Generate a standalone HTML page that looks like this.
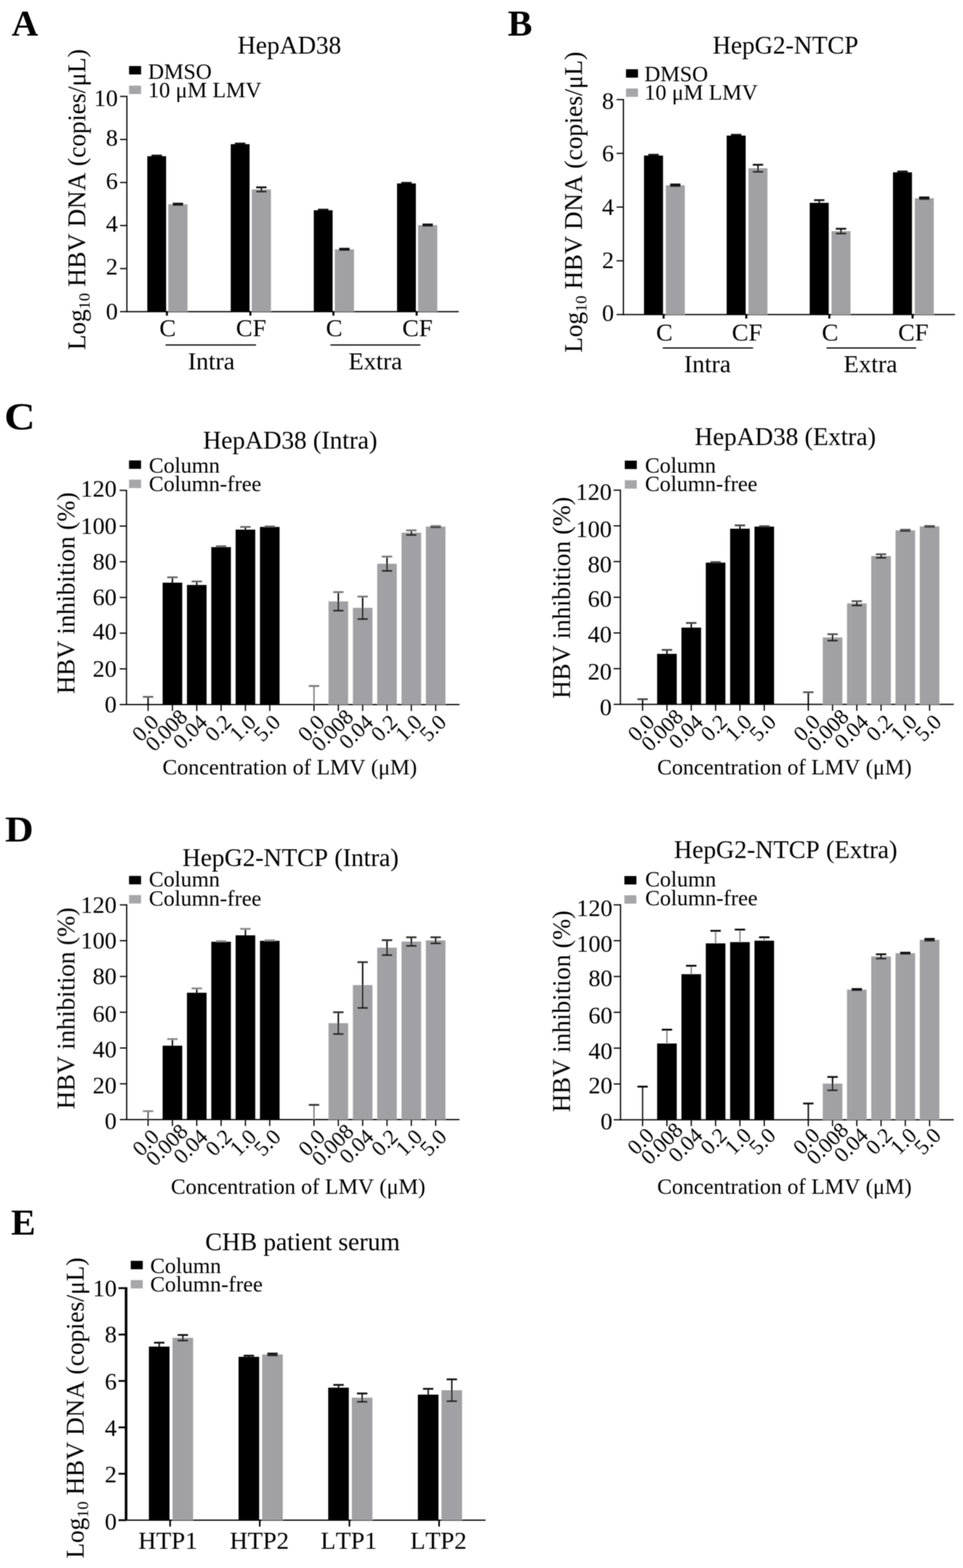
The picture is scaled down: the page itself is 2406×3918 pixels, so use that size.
<!DOCTYPE html>
<html><head><meta charset="utf-8"><title>Figure</title>
<style>
html,body{margin:0;padding:0;background:#fff;}
body{width:2406px;height:3918px;overflow:hidden;}
svg{display:block;}
text{font-family:'Liberation Serif', 'Times New Roman', serif;fill:#000;font-kerning:none;stroke:none;}
text.b{stroke:none;}
</style></head><body>
<svg width="2406" height="3918" viewBox="0 0 2406 3918">
<defs><filter id="soft" x="0" y="0" width="2406" height="3918" filterUnits="userSpaceOnUse"><feGaussianBlur stdDeviation="1"/></filter></defs>
<rect width="2406" height="3918" fill="#fff"/>
<g filter="url(#soft)">
<text class="b" transform="translate(29,89) scale(1.0,1)" font-size="92" font-weight="bold">A</text>
<text class="b" transform="translate(1268.5,89) scale(1.0,1)" font-size="92" font-weight="bold">B</text>
<text class="b" transform="translate(10.5,1072.5) scale(1.13,1)" font-size="95" font-weight="bold">C</text>
<text class="b" transform="translate(12.5,2102.5) scale(1.07,1)" font-size="92" font-weight="bold">D</text>
<text class="b" transform="translate(27.5,3085) scale(1.0,1)" font-size="92" font-weight="bold">E</text>
<line x1="315.5" y1="778.7" x2="1146.0" y2="778.7" stroke="#000" stroke-width="3"/>
<line x1="317.0" y1="239.4" x2="317.0" y2="780.2" stroke="#000" stroke-width="3"/>
<line x1="300.0" y1="778.7" x2="317.0" y2="778.7" stroke="#000" stroke-width="3"/>
<text x="294.5" y="798.2" font-size="60" text-anchor="end" >0</text>
<line x1="300.0" y1="671.1" x2="317.0" y2="671.1" stroke="#000" stroke-width="3"/>
<text x="294.5" y="686.0" font-size="60" text-anchor="end" >2</text>
<line x1="300.0" y1="563.6" x2="317.0" y2="563.6" stroke="#000" stroke-width="3"/>
<text x="294.5" y="579.2" font-size="60" text-anchor="end" >4</text>
<line x1="300.0" y1="456.0" x2="317.0" y2="456.0" stroke="#000" stroke-width="3"/>
<text x="294.5" y="472.1" font-size="60" text-anchor="end" >6</text>
<line x1="300.0" y1="348.5" x2="317.0" y2="348.5" stroke="#000" stroke-width="3"/>
<text x="294.5" y="363.9" font-size="60" text-anchor="end" >8</text>
<line x1="300.0" y1="240.9" x2="317.0" y2="240.9" stroke="#000" stroke-width="3"/>
<text x="294.5" y="264.7" font-size="60" text-anchor="end" >10</text>
<rect x="368.0" y="390.3" width="47.0" height="388.4" fill="#000"/>
<rect x="420.5" y="510.4" width="48.0" height="268.3" fill="#a1a1a5"/>
<line x1="391.5" y1="390.3" x2="391.5" y2="388.7" stroke="#111" stroke-width="3.5"/>
<line x1="378.5" y1="388.7" x2="404.5" y2="388.7" stroke="#111" stroke-width="4.5"/>
<line x1="444.5" y1="512.1" x2="444.5" y2="508.8" stroke="#111" stroke-width="3.5"/>
<line x1="431.5" y1="512.1" x2="457.5" y2="512.1" stroke="#222" stroke-width="4.5"/>
<line x1="431.5" y1="508.8" x2="457.5" y2="508.8" stroke="#111" stroke-width="4.5"/>
<line x1="417.0" y1="778.7" x2="417.0" y2="788.7" stroke="#000" stroke-width="5"/>
<text x="419.0" y="840.0" font-size="62" text-anchor="middle" >C</text>
<rect x="576.5" y="360.2" width="47.0" height="418.5" fill="#000"/>
<rect x="629.0" y="473.4" width="48.0" height="305.3" fill="#a1a1a5"/>
<line x1="600.0" y1="360.2" x2="600.0" y2="358.6" stroke="#111" stroke-width="3.5"/>
<line x1="587.0" y1="358.6" x2="613.0" y2="358.6" stroke="#111" stroke-width="4.5"/>
<line x1="653.0" y1="478.8" x2="653.0" y2="468.1" stroke="#111" stroke-width="3.5"/>
<line x1="640.0" y1="478.8" x2="666.0" y2="478.8" stroke="#222" stroke-width="4.5"/>
<line x1="640.0" y1="468.1" x2="666.0" y2="468.1" stroke="#111" stroke-width="4.5"/>
<line x1="625.5" y1="778.7" x2="625.5" y2="788.7" stroke="#000" stroke-width="5"/>
<text x="627.5" y="840.0" font-size="62" text-anchor="middle" >CF</text>
<rect x="784.0" y="525.4" width="47.0" height="253.3" fill="#000"/>
<rect x="836.5" y="623.1" width="48.0" height="155.6" fill="#a1a1a5"/>
<line x1="807.5" y1="525.4" x2="807.5" y2="523.8" stroke="#111" stroke-width="3.5"/>
<line x1="794.5" y1="523.8" x2="820.5" y2="523.8" stroke="#111" stroke-width="4.5"/>
<line x1="860.5" y1="624.7" x2="860.5" y2="621.5" stroke="#111" stroke-width="3.5"/>
<line x1="847.5" y1="624.7" x2="873.5" y2="624.7" stroke="#222" stroke-width="4.5"/>
<line x1="847.5" y1="621.5" x2="873.5" y2="621.5" stroke="#111" stroke-width="4.5"/>
<line x1="833.0" y1="778.7" x2="833.0" y2="788.7" stroke="#000" stroke-width="5"/>
<text x="835.0" y="840.0" font-size="62" text-anchor="middle" >C</text>
<rect x="992.0" y="458.4" width="47.0" height="320.3" fill="#000"/>
<rect x="1044.5" y="562.5" width="48.0" height="216.2" fill="#a1a1a5"/>
<line x1="1015.5" y1="458.4" x2="1015.5" y2="456.8" stroke="#111" stroke-width="3.5"/>
<line x1="1002.5" y1="456.8" x2="1028.5" y2="456.8" stroke="#111" stroke-width="4.5"/>
<line x1="1068.5" y1="564.1" x2="1068.5" y2="560.9" stroke="#111" stroke-width="3.5"/>
<line x1="1055.5" y1="564.1" x2="1081.5" y2="564.1" stroke="#222" stroke-width="4.5"/>
<line x1="1055.5" y1="560.9" x2="1081.5" y2="560.9" stroke="#111" stroke-width="4.5"/>
<line x1="1041.0" y1="778.7" x2="1041.0" y2="788.7" stroke="#000" stroke-width="5"/>
<text x="1043.0" y="840.0" font-size="62" text-anchor="middle" >CF</text>
<line x1="413.5" y1="862.0" x2="639.7" y2="862.0" stroke="#000" stroke-width="3"/>
<text x="528.0" y="923.0" font-size="62" text-anchor="middle" >Intra</text>
<line x1="825.4" y1="862.0" x2="1050.3" y2="862.0" stroke="#000" stroke-width="3"/>
<text x="938.0" y="923.0" font-size="62" text-anchor="middle" >Extra</text>
<text x="723.0" y="134.0" font-size="63" text-anchor="middle" >HepAD38</text>
<rect x="322.5" y="165.0" width="30.0" height="21.0" fill="#000"/>
<rect x="322.5" y="214.0" width="30.0" height="21.0" fill="#a6a6a8"/>
<text x="370.0" y="197.0" font-size="55" text-anchor="start" >DMSO</text>
<text x="370.0" y="243.0" font-size="55" text-anchor="start" >10 μM LMV</text>
<text transform="translate(213.0,498.5) rotate(-90)" x="0" y="0" font-size="63" text-anchor="middle">Log<tspan font-size="41" dy="11">10</tspan><tspan dy="-11"> HBV DNA (copies/μL)</tspan></text>
<line x1="1556.0" y1="786.0" x2="2386.0" y2="786.0" stroke="#000" stroke-width="3"/>
<line x1="1557.5" y1="247.4" x2="1557.5" y2="787.5" stroke="#000" stroke-width="3"/>
<line x1="1540.5" y1="786.0" x2="1557.5" y2="786.0" stroke="#000" stroke-width="3"/>
<text x="1534.0" y="802.0" font-size="60" text-anchor="end" >0</text>
<line x1="1540.5" y1="651.7" x2="1557.5" y2="651.7" stroke="#000" stroke-width="3"/>
<text x="1534.0" y="670.2" font-size="60" text-anchor="end" >2</text>
<line x1="1540.5" y1="517.4" x2="1557.5" y2="517.4" stroke="#000" stroke-width="3"/>
<text x="1534.0" y="536.9" font-size="60" text-anchor="end" >4</text>
<line x1="1540.5" y1="383.2" x2="1557.5" y2="383.2" stroke="#000" stroke-width="3"/>
<text x="1534.0" y="402.6" font-size="60" text-anchor="end" >6</text>
<line x1="1540.5" y1="248.9" x2="1557.5" y2="248.9" stroke="#000" stroke-width="3"/>
<text x="1534.0" y="271.9" font-size="60" text-anchor="end" >8</text>
<rect x="1609.0" y="388.7" width="47.5" height="397.3" fill="#000"/>
<rect x="1663.5" y="462.9" width="47.5" height="323.1" fill="#a1a1a5"/>
<line x1="1632.8" y1="388.7" x2="1632.8" y2="386.7" stroke="#111" stroke-width="3.5"/>
<line x1="1619.8" y1="386.7" x2="1645.8" y2="386.7" stroke="#111" stroke-width="4.5"/>
<line x1="1687.2" y1="464.9" x2="1687.2" y2="460.9" stroke="#111" stroke-width="3.5"/>
<line x1="1674.2" y1="464.9" x2="1700.2" y2="464.9" stroke="#222" stroke-width="4.5"/>
<line x1="1674.2" y1="460.9" x2="1700.2" y2="460.9" stroke="#111" stroke-width="4.5"/>
<line x1="1658.0" y1="786.0" x2="1658.0" y2="796.0" stroke="#000" stroke-width="5"/>
<text x="1660.0" y="851.0" font-size="62" text-anchor="middle" >C</text>
<rect x="1815.5" y="338.8" width="47.5" height="447.2" fill="#000"/>
<rect x="1870.0" y="420.4" width="47.5" height="365.6" fill="#a1a1a5"/>
<line x1="1839.2" y1="338.8" x2="1839.2" y2="336.8" stroke="#111" stroke-width="3.5"/>
<line x1="1826.2" y1="336.8" x2="1852.2" y2="336.8" stroke="#111" stroke-width="4.5"/>
<line x1="1893.8" y1="429.2" x2="1893.8" y2="411.7" stroke="#111" stroke-width="3.5"/>
<line x1="1880.8" y1="429.2" x2="1906.8" y2="429.2" stroke="#222" stroke-width="4.5"/>
<line x1="1880.8" y1="411.7" x2="1906.8" y2="411.7" stroke="#111" stroke-width="4.5"/>
<line x1="1864.5" y1="786.0" x2="1864.5" y2="796.0" stroke="#000" stroke-width="5"/>
<text x="1866.5" y="851.0" font-size="62" text-anchor="middle" >CF</text>
<rect x="2023.0" y="506.8" width="47.5" height="279.2" fill="#000"/>
<rect x="2077.5" y="577.6" width="47.5" height="208.4" fill="#a1a1a5"/>
<line x1="2046.8" y1="506.8" x2="2046.8" y2="500.1" stroke="#111" stroke-width="3.5"/>
<line x1="2033.8" y1="500.1" x2="2059.8" y2="500.1" stroke="#111" stroke-width="4.5"/>
<line x1="2101.2" y1="583.6" x2="2101.2" y2="571.6" stroke="#111" stroke-width="3.5"/>
<line x1="2088.2" y1="583.6" x2="2114.2" y2="583.6" stroke="#222" stroke-width="4.5"/>
<line x1="2088.2" y1="571.6" x2="2114.2" y2="571.6" stroke="#111" stroke-width="4.5"/>
<line x1="2072.0" y1="786.0" x2="2072.0" y2="796.0" stroke="#000" stroke-width="5"/>
<text x="2074.0" y="851.0" font-size="62" text-anchor="middle" >C</text>
<rect x="2231.0" y="430.6" width="47.5" height="355.4" fill="#000"/>
<rect x="2285.5" y="495.3" width="47.5" height="290.7" fill="#a1a1a5"/>
<line x1="2254.8" y1="430.6" x2="2254.8" y2="428.5" stroke="#111" stroke-width="3.5"/>
<line x1="2241.8" y1="428.5" x2="2267.8" y2="428.5" stroke="#111" stroke-width="4.5"/>
<line x1="2309.2" y1="497.3" x2="2309.2" y2="493.3" stroke="#111" stroke-width="3.5"/>
<line x1="2296.2" y1="497.3" x2="2322.2" y2="497.3" stroke="#222" stroke-width="4.5"/>
<line x1="2296.2" y1="493.3" x2="2322.2" y2="493.3" stroke="#111" stroke-width="4.5"/>
<line x1="2280.0" y1="786.0" x2="2280.0" y2="796.0" stroke="#000" stroke-width="5"/>
<text x="2282.0" y="851.0" font-size="62" text-anchor="middle" >CF</text>
<line x1="1655.7" y1="869.5" x2="1881.5" y2="869.5" stroke="#000" stroke-width="3"/>
<text x="1767.5" y="929.5" font-size="62" text-anchor="middle" >Intra</text>
<line x1="2065.0" y1="869.5" x2="2289.0" y2="869.5" stroke="#000" stroke-width="3"/>
<text x="2175.0" y="929.5" font-size="62" text-anchor="middle" >Extra</text>
<text x="1962.5" y="133.5" font-size="63" text-anchor="middle" >HepG2-NTCP</text>
<rect x="1564.0" y="173.0" width="30.0" height="21.0" fill="#000"/>
<rect x="1564.0" y="221.0" width="30.0" height="21.0" fill="#a6a6a8"/>
<text x="1610.0" y="203.0" font-size="55" text-anchor="start" >DMSO</text>
<text x="1610.0" y="248.5" font-size="55" text-anchor="start" >10 μM LMV</text>
<text transform="translate(1454.0,505.0) rotate(-90)" x="0" y="0" font-size="63" text-anchor="middle">Log<tspan font-size="41" dy="11">10</tspan><tspan dy="-11"> HBV DNA (copies/μL)</tspan></text>
<line x1="314.5" y1="1760.5" x2="1148.0" y2="1760.5" stroke="#000" stroke-width="3"/>
<line x1="316.0" y1="1223.8" x2="316.0" y2="1762.0" stroke="#000" stroke-width="3"/>
<line x1="299.0" y1="1760.5" x2="316.0" y2="1760.5" stroke="#000" stroke-width="3"/>
<text x="291.5" y="1780.0" font-size="60" text-anchor="end" >0</text>
<line x1="299.0" y1="1671.3" x2="316.0" y2="1671.3" stroke="#000" stroke-width="3"/>
<text x="291.5" y="1690.8" font-size="60" text-anchor="end" >20</text>
<line x1="299.0" y1="1582.1" x2="316.0" y2="1582.1" stroke="#000" stroke-width="3"/>
<text x="291.5" y="1597.6" font-size="60" text-anchor="end" >40</text>
<line x1="299.0" y1="1492.9" x2="316.0" y2="1492.9" stroke="#000" stroke-width="3"/>
<text x="291.5" y="1512.4" font-size="60" text-anchor="end" >60</text>
<line x1="299.0" y1="1403.7" x2="316.0" y2="1403.7" stroke="#000" stroke-width="3"/>
<text x="291.5" y="1423.2" font-size="60" text-anchor="end" >80</text>
<line x1="299.0" y1="1314.5" x2="316.0" y2="1314.5" stroke="#000" stroke-width="3"/>
<text x="291.5" y="1334.0" font-size="60" text-anchor="end" >100</text>
<line x1="299.0" y1="1225.3" x2="316.0" y2="1225.3" stroke="#000" stroke-width="3"/>
<text x="291.5" y="1241.1" font-size="60" text-anchor="end" >120</text>
<line x1="370.0" y1="1760.5" x2="370.0" y2="1741.3" stroke="#000" stroke-width="3.5"/>
<line x1="357.0" y1="1741.3" x2="383.0" y2="1741.3" stroke="#666" stroke-width="4.5"/>
<line x1="370.0" y1="1760.5" x2="370.0" y2="1776.5" stroke="#000" stroke-width="3"/>
<text transform="translate(399.5,1808.0) rotate(-45)" font-size="54" text-anchor="end">0.0</text>
<rect x="406.3" y="1455.9" width="49.0" height="304.6" fill="#000"/>
<line x1="430.8" y1="1455.9" x2="430.8" y2="1442.5" stroke="#000" stroke-width="3.5"/>
<line x1="417.8" y1="1442.5" x2="443.8" y2="1442.5" stroke="#666" stroke-width="4.5"/>
<line x1="430.8" y1="1760.5" x2="430.8" y2="1776.5" stroke="#000" stroke-width="3"/>
<text transform="translate(471.3,1794.5) rotate(-45)" font-size="54" text-anchor="end">0.008</text>
<rect x="467.1" y="1461.7" width="49.0" height="298.8" fill="#000"/>
<line x1="491.6" y1="1461.7" x2="491.6" y2="1452.8" stroke="#000" stroke-width="3.5"/>
<line x1="478.6" y1="1452.8" x2="504.6" y2="1452.8" stroke="#666" stroke-width="4.5"/>
<line x1="491.6" y1="1760.5" x2="491.6" y2="1776.5" stroke="#000" stroke-width="3"/>
<text transform="translate(521.1,1808.0) rotate(-45)" font-size="54" text-anchor="end">0.04</text>
<rect x="527.9" y="1367.1" width="49.0" height="393.4" fill="#000"/>
<line x1="552.4" y1="1367.1" x2="552.4" y2="1364.9" stroke="#000" stroke-width="3.5"/>
<line x1="539.4" y1="1364.9" x2="565.4" y2="1364.9" stroke="#666" stroke-width="4.5"/>
<line x1="552.4" y1="1760.5" x2="552.4" y2="1776.5" stroke="#000" stroke-width="3"/>
<text transform="translate(581.9,1808.0) rotate(-45)" font-size="54" text-anchor="end">0.2</text>
<rect x="588.7" y="1323.4" width="49.0" height="437.1" fill="#000"/>
<line x1="613.2" y1="1323.4" x2="613.2" y2="1316.7" stroke="#000" stroke-width="3.5"/>
<line x1="600.2" y1="1316.7" x2="626.2" y2="1316.7" stroke="#666" stroke-width="4.5"/>
<line x1="613.2" y1="1760.5" x2="613.2" y2="1776.5" stroke="#000" stroke-width="3"/>
<text transform="translate(642.7,1808.0) rotate(-45)" font-size="54" text-anchor="end">1.0</text>
<rect x="649.5" y="1316.7" width="49.0" height="443.8" fill="#000"/>
<line x1="674.0" y1="1316.7" x2="674.0" y2="1315.4" stroke="#000" stroke-width="3.5"/>
<line x1="661.0" y1="1315.4" x2="687.0" y2="1315.4" stroke="#666" stroke-width="4.5"/>
<line x1="674.0" y1="1760.5" x2="674.0" y2="1776.5" stroke="#000" stroke-width="3"/>
<text transform="translate(703.5,1808.0) rotate(-45)" font-size="54" text-anchor="end">5.0</text>
<line x1="784.5" y1="1760.5" x2="784.5" y2="1714.1" stroke="#808080" stroke-width="3.5"/>
<line x1="771.5" y1="1714.1" x2="797.5" y2="1714.1" stroke="#777" stroke-width="4.5"/>
<line x1="784.5" y1="1760.5" x2="784.5" y2="1776.5" stroke="#000" stroke-width="3"/>
<text transform="translate(814.0,1808.0) rotate(-45)" font-size="54" text-anchor="end">0.0</text>
<rect x="820.8" y="1502.7" width="49.0" height="257.8" fill="#a1a1a5"/>
<line x1="845.3" y1="1525.9" x2="845.3" y2="1479.5" stroke="#000" stroke-width="3.5"/>
<line x1="832.3" y1="1525.9" x2="858.3" y2="1525.9" stroke="#222" stroke-width="4.5"/>
<line x1="832.3" y1="1479.5" x2="858.3" y2="1479.5" stroke="#777" stroke-width="4.5"/>
<line x1="845.3" y1="1760.5" x2="845.3" y2="1776.5" stroke="#000" stroke-width="3"/>
<text transform="translate(885.8,1794.5) rotate(-45)" font-size="54" text-anchor="end">0.008</text>
<rect x="881.6" y="1518.8" width="49.0" height="241.7" fill="#a1a1a5"/>
<line x1="906.1" y1="1546.9" x2="906.1" y2="1490.7" stroke="#000" stroke-width="3.5"/>
<line x1="893.1" y1="1546.9" x2="919.1" y2="1546.9" stroke="#222" stroke-width="4.5"/>
<line x1="893.1" y1="1490.7" x2="919.1" y2="1490.7" stroke="#777" stroke-width="4.5"/>
<line x1="906.1" y1="1760.5" x2="906.1" y2="1776.5" stroke="#000" stroke-width="3"/>
<text transform="translate(935.6,1808.0) rotate(-45)" font-size="54" text-anchor="end">0.04</text>
<rect x="942.4" y="1408.6" width="49.0" height="351.9" fill="#a1a1a5"/>
<line x1="966.9" y1="1426.4" x2="966.9" y2="1390.8" stroke="#000" stroke-width="3.5"/>
<line x1="953.9" y1="1426.4" x2="979.9" y2="1426.4" stroke="#222" stroke-width="4.5"/>
<line x1="953.9" y1="1390.8" x2="979.9" y2="1390.8" stroke="#777" stroke-width="4.5"/>
<line x1="966.9" y1="1760.5" x2="966.9" y2="1776.5" stroke="#000" stroke-width="3"/>
<text transform="translate(996.4,1808.0) rotate(-45)" font-size="54" text-anchor="end">0.2</text>
<rect x="1003.2" y="1331.0" width="49.0" height="429.5" fill="#a1a1a5"/>
<line x1="1027.7" y1="1336.8" x2="1027.7" y2="1325.2" stroke="#000" stroke-width="3.5"/>
<line x1="1014.7" y1="1336.8" x2="1040.7" y2="1336.8" stroke="#222" stroke-width="4.5"/>
<line x1="1014.7" y1="1325.2" x2="1040.7" y2="1325.2" stroke="#777" stroke-width="4.5"/>
<line x1="1027.7" y1="1760.5" x2="1027.7" y2="1776.5" stroke="#000" stroke-width="3"/>
<text transform="translate(1057.2,1808.0) rotate(-45)" font-size="54" text-anchor="end">1.0</text>
<rect x="1064.0" y="1315.8" width="49.0" height="444.7" fill="#a1a1a5"/>
<line x1="1088.5" y1="1317.2" x2="1088.5" y2="1314.5" stroke="#000" stroke-width="3.5"/>
<line x1="1075.5" y1="1317.2" x2="1101.5" y2="1317.2" stroke="#222" stroke-width="4.5"/>
<line x1="1075.5" y1="1314.5" x2="1101.5" y2="1314.5" stroke="#777" stroke-width="4.5"/>
<line x1="1088.5" y1="1760.5" x2="1088.5" y2="1776.5" stroke="#000" stroke-width="3"/>
<text transform="translate(1118.0,1808.0) rotate(-45)" font-size="54" text-anchor="end">5.0</text>
<text x="725.0" y="1121.0" font-size="63" text-anchor="middle" >HepAD38 (Intra)</text>
<rect x="322.4" y="1150.5" width="30.0" height="21.0" fill="#000"/>
<rect x="322.4" y="1198.5" width="30.0" height="21.0" fill="#a6a6a8"/>
<text x="372.0" y="1181.0" font-size="55" text-anchor="start" >Column</text>
<text x="372.0" y="1227.0" font-size="55" text-anchor="start" >Column-free</text>
<text transform="translate(186.0,1482.0) rotate(-90)" x="0" y="0" font-size="63" text-anchor="middle">HBV inhibition (%)</text>
<text x="724.0" y="1935.0" font-size="55" text-anchor="middle" >Concentration of LMV (μM)</text>
<line x1="1548.5" y1="1760.0" x2="2383.0" y2="1760.0" stroke="#000" stroke-width="3"/>
<line x1="1550.0" y1="1223.3" x2="1550.0" y2="1761.5" stroke="#000" stroke-width="3"/>
<line x1="1533.0" y1="1760.0" x2="1550.0" y2="1760.0" stroke="#000" stroke-width="3"/>
<text x="1528.5" y="1786.5" font-size="60" text-anchor="end" >0</text>
<line x1="1533.0" y1="1670.8" x2="1550.0" y2="1670.8" stroke="#000" stroke-width="3"/>
<text x="1528.5" y="1697.7" font-size="60" text-anchor="end" >20</text>
<line x1="1533.0" y1="1581.6" x2="1550.0" y2="1581.6" stroke="#000" stroke-width="3"/>
<text x="1528.5" y="1604.5" font-size="60" text-anchor="end" >40</text>
<line x1="1533.0" y1="1492.4" x2="1550.0" y2="1492.4" stroke="#000" stroke-width="3"/>
<text x="1528.5" y="1516.1" font-size="60" text-anchor="end" >60</text>
<line x1="1533.0" y1="1403.2" x2="1550.0" y2="1403.2" stroke="#000" stroke-width="3"/>
<text x="1528.5" y="1429.9" font-size="60" text-anchor="end" >80</text>
<line x1="1533.0" y1="1314.0" x2="1550.0" y2="1314.0" stroke="#000" stroke-width="3"/>
<text x="1528.5" y="1341.9" font-size="60" text-anchor="end" >100</text>
<line x1="1533.0" y1="1224.8" x2="1550.0" y2="1224.8" stroke="#000" stroke-width="3"/>
<text x="1528.5" y="1248.5" font-size="60" text-anchor="end" >120</text>
<line x1="1605.5" y1="1760.0" x2="1605.5" y2="1747.1" stroke="#000" stroke-width="3.5"/>
<line x1="1592.5" y1="1747.1" x2="1618.5" y2="1747.1" stroke="#444" stroke-width="4.5"/>
<line x1="1605.5" y1="1760.0" x2="1605.5" y2="1776.0" stroke="#000" stroke-width="3"/>
<text transform="translate(1638.0,1807.5) rotate(-45)" font-size="54" text-anchor="end">0.0</text>
<rect x="1641.8" y="1633.8" width="49.0" height="126.2" fill="#000"/>
<line x1="1666.3" y1="1633.8" x2="1666.3" y2="1624.0" stroke="#000" stroke-width="3.5"/>
<line x1="1653.3" y1="1624.0" x2="1679.3" y2="1624.0" stroke="#444" stroke-width="4.5"/>
<line x1="1666.3" y1="1760.0" x2="1666.3" y2="1776.0" stroke="#000" stroke-width="3"/>
<text transform="translate(1709.8,1794.0) rotate(-45)" font-size="54" text-anchor="end">0.008</text>
<rect x="1702.6" y="1568.2" width="49.0" height="191.8" fill="#000"/>
<line x1="1727.1" y1="1568.2" x2="1727.1" y2="1556.6" stroke="#000" stroke-width="3.5"/>
<line x1="1714.1" y1="1556.6" x2="1740.1" y2="1556.6" stroke="#444" stroke-width="4.5"/>
<line x1="1727.1" y1="1760.0" x2="1727.1" y2="1776.0" stroke="#000" stroke-width="3"/>
<text transform="translate(1759.6,1807.5) rotate(-45)" font-size="54" text-anchor="end">0.04</text>
<rect x="1763.4" y="1405.9" width="49.0" height="354.1" fill="#000"/>
<line x1="1787.9" y1="1405.9" x2="1787.9" y2="1404.5" stroke="#000" stroke-width="3.5"/>
<line x1="1774.9" y1="1404.5" x2="1800.9" y2="1404.5" stroke="#444" stroke-width="4.5"/>
<line x1="1787.9" y1="1760.0" x2="1787.9" y2="1776.0" stroke="#000" stroke-width="3"/>
<text transform="translate(1820.4,1807.5) rotate(-45)" font-size="54" text-anchor="end">0.2</text>
<rect x="1824.2" y="1321.1" width="49.0" height="438.9" fill="#000"/>
<line x1="1848.7" y1="1321.1" x2="1848.7" y2="1312.7" stroke="#000" stroke-width="3.5"/>
<line x1="1835.7" y1="1312.7" x2="1861.7" y2="1312.7" stroke="#444" stroke-width="4.5"/>
<line x1="1848.7" y1="1760.0" x2="1848.7" y2="1776.0" stroke="#000" stroke-width="3"/>
<text transform="translate(1881.2,1807.5) rotate(-45)" font-size="54" text-anchor="end">1.0</text>
<rect x="1885.0" y="1315.8" width="49.0" height="444.2" fill="#000"/>
<line x1="1909.5" y1="1315.8" x2="1909.5" y2="1314.9" stroke="#000" stroke-width="3.5"/>
<line x1="1896.5" y1="1314.9" x2="1922.5" y2="1314.9" stroke="#444" stroke-width="4.5"/>
<line x1="1909.5" y1="1760.0" x2="1909.5" y2="1776.0" stroke="#000" stroke-width="3"/>
<text transform="translate(1942.0,1807.5) rotate(-45)" font-size="54" text-anchor="end">5.0</text>
<line x1="2019.5" y1="1760.0" x2="2019.5" y2="1729.7" stroke="#000" stroke-width="3.5"/>
<line x1="2006.5" y1="1729.7" x2="2032.5" y2="1729.7" stroke="#555" stroke-width="4.5"/>
<line x1="2019.5" y1="1760.0" x2="2019.5" y2="1776.0" stroke="#000" stroke-width="3"/>
<text transform="translate(2052.0,1807.5) rotate(-45)" font-size="54" text-anchor="end">0.0</text>
<rect x="2055.6" y="1592.8" width="49.0" height="167.2" fill="#a1a1a5"/>
<line x1="2080.1" y1="1600.8" x2="2080.1" y2="1584.7" stroke="#000" stroke-width="3.5"/>
<line x1="2067.1" y1="1600.8" x2="2093.1" y2="1600.8" stroke="#222" stroke-width="4.5"/>
<line x1="2067.1" y1="1584.7" x2="2093.1" y2="1584.7" stroke="#555" stroke-width="4.5"/>
<line x1="2080.1" y1="1760.0" x2="2080.1" y2="1776.0" stroke="#000" stroke-width="3"/>
<text transform="translate(2123.6,1794.0) rotate(-45)" font-size="54" text-anchor="end">0.008</text>
<rect x="2116.2" y="1507.6" width="49.0" height="252.4" fill="#a1a1a5"/>
<line x1="2140.7" y1="1512.9" x2="2140.7" y2="1502.2" stroke="#000" stroke-width="3.5"/>
<line x1="2127.7" y1="1512.9" x2="2153.7" y2="1512.9" stroke="#222" stroke-width="4.5"/>
<line x1="2127.7" y1="1502.2" x2="2153.7" y2="1502.2" stroke="#555" stroke-width="4.5"/>
<line x1="2140.7" y1="1760.0" x2="2140.7" y2="1776.0" stroke="#000" stroke-width="3"/>
<text transform="translate(2173.2,1807.5) rotate(-45)" font-size="54" text-anchor="end">0.04</text>
<rect x="2176.8" y="1389.4" width="49.0" height="370.6" fill="#a1a1a5"/>
<line x1="2201.3" y1="1393.8" x2="2201.3" y2="1384.9" stroke="#000" stroke-width="3.5"/>
<line x1="2188.3" y1="1393.8" x2="2214.3" y2="1393.8" stroke="#222" stroke-width="4.5"/>
<line x1="2188.3" y1="1384.9" x2="2214.3" y2="1384.9" stroke="#555" stroke-width="4.5"/>
<line x1="2201.3" y1="1760.0" x2="2201.3" y2="1776.0" stroke="#000" stroke-width="3"/>
<text transform="translate(2233.8,1807.5) rotate(-45)" font-size="54" text-anchor="end">0.2</text>
<rect x="2237.4" y="1325.2" width="49.0" height="434.8" fill="#a1a1a5"/>
<line x1="2261.9" y1="1326.5" x2="2261.9" y2="1323.8" stroke="#000" stroke-width="3.5"/>
<line x1="2248.9" y1="1326.5" x2="2274.9" y2="1326.5" stroke="#222" stroke-width="4.5"/>
<line x1="2248.9" y1="1323.8" x2="2274.9" y2="1323.8" stroke="#555" stroke-width="4.5"/>
<line x1="2261.9" y1="1760.0" x2="2261.9" y2="1776.0" stroke="#000" stroke-width="3"/>
<text transform="translate(2294.4,1807.5) rotate(-45)" font-size="54" text-anchor="end">1.0</text>
<rect x="2298.0" y="1315.3" width="49.0" height="444.7" fill="#a1a1a5"/>
<line x1="2322.5" y1="1316.2" x2="2322.5" y2="1314.4" stroke="#000" stroke-width="3.5"/>
<line x1="2309.5" y1="1316.2" x2="2335.5" y2="1316.2" stroke="#222" stroke-width="4.5"/>
<line x1="2309.5" y1="1314.4" x2="2335.5" y2="1314.4" stroke="#555" stroke-width="4.5"/>
<line x1="2322.5" y1="1760.0" x2="2322.5" y2="1776.0" stroke="#000" stroke-width="3"/>
<text transform="translate(2355.0,1807.5) rotate(-45)" font-size="54" text-anchor="end">5.0</text>
<text x="1962.0" y="1111.5" font-size="63" text-anchor="middle" >HepAD38 (Extra)</text>
<rect x="1561.0" y="1151.0" width="30.0" height="21.0" fill="#000"/>
<rect x="1561.0" y="1200.0" width="30.0" height="21.0" fill="#a6a6a8"/>
<text x="1611.5" y="1181.0" font-size="55" text-anchor="start" >Column</text>
<text x="1611.5" y="1226.6" font-size="55" text-anchor="start" >Column-free</text>
<text transform="translate(1424.0,1493.5) rotate(-90)" x="0" y="0" font-size="63" text-anchor="middle">HBV inhibition (%)</text>
<text x="1960.0" y="1935.0" font-size="55" text-anchor="middle" >Concentration of LMV (μM)</text>
<line x1="315.0" y1="2797.5" x2="1148.0" y2="2797.5" stroke="#000" stroke-width="3"/>
<line x1="316.5" y1="2259.6" x2="316.5" y2="2799.0" stroke="#000" stroke-width="3"/>
<line x1="299.5" y1="2797.5" x2="316.5" y2="2797.5" stroke="#000" stroke-width="3"/>
<text x="291.5" y="2820.7" font-size="60" text-anchor="end" >0</text>
<line x1="299.5" y1="2708.1" x2="316.5" y2="2708.1" stroke="#000" stroke-width="3"/>
<text x="291.5" y="2731.7" font-size="60" text-anchor="end" >20</text>
<line x1="299.5" y1="2618.7" x2="316.5" y2="2618.7" stroke="#000" stroke-width="3"/>
<text x="291.5" y="2642.1" font-size="60" text-anchor="end" >40</text>
<line x1="299.5" y1="2529.3" x2="316.5" y2="2529.3" stroke="#000" stroke-width="3"/>
<text x="291.5" y="2553.3" font-size="60" text-anchor="end" >60</text>
<line x1="299.5" y1="2439.9" x2="316.5" y2="2439.9" stroke="#000" stroke-width="3"/>
<text x="291.5" y="2459.4" font-size="60" text-anchor="end" >80</text>
<line x1="299.5" y1="2350.5" x2="316.5" y2="2350.5" stroke="#000" stroke-width="3"/>
<text x="291.5" y="2370.0" font-size="60" text-anchor="end" >100</text>
<line x1="299.5" y1="2261.1" x2="316.5" y2="2261.1" stroke="#000" stroke-width="3"/>
<text x="291.5" y="2280.6" font-size="60" text-anchor="end" >120</text>
<line x1="370.0" y1="2797.5" x2="370.0" y2="2776.5" stroke="#555" stroke-width="3.5"/>
<line x1="357.0" y1="2776.5" x2="383.0" y2="2776.5" stroke="#888" stroke-width="4.5"/>
<line x1="370.0" y1="2797.5" x2="370.0" y2="2813.5" stroke="#000" stroke-width="3"/>
<text transform="translate(400.5,2844.0) rotate(-45)" font-size="54" text-anchor="end">0.0</text>
<rect x="406.3" y="2612.9" width="49.0" height="184.6" fill="#000"/>
<line x1="430.8" y1="2612.9" x2="430.8" y2="2596.3" stroke="#000" stroke-width="3.5"/>
<line x1="417.8" y1="2596.3" x2="443.8" y2="2596.3" stroke="#888" stroke-width="4.5"/>
<line x1="430.8" y1="2797.5" x2="430.8" y2="2813.5" stroke="#000" stroke-width="3"/>
<text transform="translate(472.3,2830.5) rotate(-45)" font-size="54" text-anchor="end">0.008</text>
<rect x="467.1" y="2480.6" width="49.0" height="316.9" fill="#000"/>
<line x1="491.6" y1="2480.6" x2="491.6" y2="2469.8" stroke="#000" stroke-width="3.5"/>
<line x1="478.6" y1="2469.8" x2="504.6" y2="2469.8" stroke="#888" stroke-width="4.5"/>
<line x1="491.6" y1="2797.5" x2="491.6" y2="2813.5" stroke="#000" stroke-width="3"/>
<text transform="translate(522.1,2844.0) rotate(-45)" font-size="54" text-anchor="end">0.04</text>
<rect x="527.9" y="2353.2" width="49.0" height="444.3" fill="#000"/>
<line x1="552.4" y1="2353.2" x2="552.4" y2="2351.8" stroke="#000" stroke-width="3.5"/>
<line x1="539.4" y1="2351.8" x2="565.4" y2="2351.8" stroke="#888" stroke-width="4.5"/>
<line x1="552.4" y1="2797.5" x2="552.4" y2="2813.5" stroke="#000" stroke-width="3"/>
<text transform="translate(582.9,2844.0) rotate(-45)" font-size="54" text-anchor="end">0.2</text>
<rect x="588.7" y="2337.1" width="49.0" height="460.4" fill="#000"/>
<line x1="613.2" y1="2337.1" x2="613.2" y2="2321.0" stroke="#000" stroke-width="3.5"/>
<line x1="600.2" y1="2321.0" x2="626.2" y2="2321.0" stroke="#888" stroke-width="4.5"/>
<line x1="613.2" y1="2797.5" x2="613.2" y2="2813.5" stroke="#000" stroke-width="3"/>
<text transform="translate(643.7,2844.0) rotate(-45)" font-size="54" text-anchor="end">1.0</text>
<rect x="649.5" y="2350.9" width="49.0" height="446.6" fill="#000"/>
<line x1="674.0" y1="2350.9" x2="674.0" y2="2349.6" stroke="#000" stroke-width="3.5"/>
<line x1="661.0" y1="2349.6" x2="687.0" y2="2349.6" stroke="#888" stroke-width="4.5"/>
<line x1="674.0" y1="2797.5" x2="674.0" y2="2813.5" stroke="#000" stroke-width="3"/>
<text transform="translate(704.5,2844.0) rotate(-45)" font-size="54" text-anchor="end">5.0</text>
<line x1="784.5" y1="2797.5" x2="784.5" y2="2760.8" stroke="#808080" stroke-width="3.5"/>
<line x1="771.5" y1="2760.8" x2="797.5" y2="2760.8" stroke="#333" stroke-width="4.5"/>
<line x1="784.5" y1="2797.5" x2="784.5" y2="2813.5" stroke="#000" stroke-width="3"/>
<text transform="translate(815.0,2844.0) rotate(-45)" font-size="54" text-anchor="end">0.0</text>
<rect x="820.8" y="2556.6" width="49.0" height="240.9" fill="#a1a1a5"/>
<line x1="845.3" y1="2583.8" x2="845.3" y2="2529.3" stroke="#000" stroke-width="3.5"/>
<line x1="832.3" y1="2583.8" x2="858.3" y2="2583.8" stroke="#222" stroke-width="4.5"/>
<line x1="832.3" y1="2529.3" x2="858.3" y2="2529.3" stroke="#333" stroke-width="4.5"/>
<line x1="845.3" y1="2797.5" x2="845.3" y2="2813.5" stroke="#000" stroke-width="3"/>
<text transform="translate(886.8,2830.5) rotate(-45)" font-size="54" text-anchor="end">0.008</text>
<rect x="881.6" y="2461.4" width="49.0" height="336.1" fill="#a1a1a5"/>
<line x1="906.1" y1="2518.6" x2="906.1" y2="2404.1" stroke="#000" stroke-width="3.5"/>
<line x1="893.1" y1="2518.6" x2="919.1" y2="2518.6" stroke="#222" stroke-width="4.5"/>
<line x1="893.1" y1="2404.1" x2="919.1" y2="2404.1" stroke="#333" stroke-width="4.5"/>
<line x1="906.1" y1="2797.5" x2="906.1" y2="2813.5" stroke="#000" stroke-width="3"/>
<text transform="translate(936.6,2844.0) rotate(-45)" font-size="54" text-anchor="end">0.04</text>
<rect x="942.4" y="2367.9" width="49.0" height="429.6" fill="#a1a1a5"/>
<line x1="966.9" y1="2386.7" x2="966.9" y2="2349.2" stroke="#000" stroke-width="3.5"/>
<line x1="953.9" y1="2386.7" x2="979.9" y2="2386.7" stroke="#222" stroke-width="4.5"/>
<line x1="953.9" y1="2349.2" x2="979.9" y2="2349.2" stroke="#333" stroke-width="4.5"/>
<line x1="966.9" y1="2797.5" x2="966.9" y2="2813.5" stroke="#000" stroke-width="3"/>
<text transform="translate(997.4,2844.0) rotate(-45)" font-size="54" text-anchor="end">0.2</text>
<rect x="1003.2" y="2352.7" width="49.0" height="444.8" fill="#a1a1a5"/>
<line x1="1027.7" y1="2363.5" x2="1027.7" y2="2342.0" stroke="#000" stroke-width="3.5"/>
<line x1="1014.7" y1="2363.5" x2="1040.7" y2="2363.5" stroke="#222" stroke-width="4.5"/>
<line x1="1014.7" y1="2342.0" x2="1040.7" y2="2342.0" stroke="#333" stroke-width="4.5"/>
<line x1="1027.7" y1="2797.5" x2="1027.7" y2="2813.5" stroke="#000" stroke-width="3"/>
<text transform="translate(1058.2,2844.0) rotate(-45)" font-size="54" text-anchor="end">1.0</text>
<rect x="1064.0" y="2349.6" width="49.0" height="447.9" fill="#a1a1a5"/>
<line x1="1088.5" y1="2357.2" x2="1088.5" y2="2342.0" stroke="#000" stroke-width="3.5"/>
<line x1="1075.5" y1="2357.2" x2="1101.5" y2="2357.2" stroke="#222" stroke-width="4.5"/>
<line x1="1075.5" y1="2342.0" x2="1101.5" y2="2342.0" stroke="#333" stroke-width="4.5"/>
<line x1="1088.5" y1="2797.5" x2="1088.5" y2="2813.5" stroke="#000" stroke-width="3"/>
<text transform="translate(1119.0,2844.0) rotate(-45)" font-size="54" text-anchor="end">5.0</text>
<text x="726.0" y="2164.0" font-size="63" text-anchor="middle" >HepG2-NTCP (Intra)</text>
<rect x="322.4" y="2188.7" width="30.0" height="21.0" fill="#000"/>
<rect x="322.4" y="2236.6" width="30.0" height="21.0" fill="#a6a6a8"/>
<text x="372.0" y="2215.0" font-size="55" text-anchor="start" >Column</text>
<text x="372.0" y="2263.0" font-size="55" text-anchor="start" >Column-free</text>
<text transform="translate(186.0,2519.5) rotate(-90)" x="0" y="0" font-size="63" text-anchor="middle">HBV inhibition (%)</text>
<text x="745.0" y="2983.0" font-size="55" text-anchor="middle" >Concentration of LMV (μM)</text>
<line x1="1548.8" y1="2798.0" x2="2383.0" y2="2798.0" stroke="#000" stroke-width="3"/>
<line x1="1550.3" y1="2259.5" x2="1550.3" y2="2799.5" stroke="#000" stroke-width="3"/>
<line x1="1533.3" y1="2798.0" x2="1550.3" y2="2798.0" stroke="#000" stroke-width="3"/>
<text x="1530.3" y="2821.5" font-size="60" text-anchor="end" >0</text>
<line x1="1533.3" y1="2708.5" x2="1550.3" y2="2708.5" stroke="#000" stroke-width="3"/>
<text x="1530.3" y="2732.2" font-size="60" text-anchor="end" >20</text>
<line x1="1533.3" y1="2619.0" x2="1550.3" y2="2619.0" stroke="#000" stroke-width="3"/>
<text x="1530.3" y="2646.4" font-size="60" text-anchor="end" >40</text>
<line x1="1533.3" y1="2529.5" x2="1550.3" y2="2529.5" stroke="#000" stroke-width="3"/>
<text x="1530.3" y="2556.9" font-size="60" text-anchor="end" >60</text>
<line x1="1533.3" y1="2440.0" x2="1550.3" y2="2440.0" stroke="#000" stroke-width="3"/>
<text x="1530.3" y="2463.7" font-size="60" text-anchor="end" >80</text>
<line x1="1533.3" y1="2350.5" x2="1550.3" y2="2350.5" stroke="#000" stroke-width="3"/>
<text x="1530.3" y="2378.0" font-size="60" text-anchor="end" >100</text>
<line x1="1533.3" y1="2261.0" x2="1550.3" y2="2261.0" stroke="#000" stroke-width="3"/>
<text x="1530.3" y="2288.5" font-size="60" text-anchor="end" >120</text>
<line x1="1605.5" y1="2798.0" x2="1605.5" y2="2715.2" stroke="#222" stroke-width="3.5"/>
<line x1="1592.5" y1="2715.2" x2="1618.5" y2="2715.2" stroke="#000" stroke-width="4.5"/>
<line x1="1605.5" y1="2798.0" x2="1605.5" y2="2814.0" stroke="#000" stroke-width="3"/>
<text transform="translate(1637.0,2840.5) rotate(-45)" font-size="54" text-anchor="end">0.0</text>
<rect x="1641.8" y="2607.4" width="49.0" height="190.6" fill="#000"/>
<line x1="1666.3" y1="2607.4" x2="1666.3" y2="2572.9" stroke="#888" stroke-width="3.5"/>
<line x1="1653.3" y1="2572.9" x2="1679.3" y2="2572.9" stroke="#000" stroke-width="4.5"/>
<line x1="1666.3" y1="2798.0" x2="1666.3" y2="2814.0" stroke="#000" stroke-width="3"/>
<text transform="translate(1708.8,2827.0) rotate(-45)" font-size="54" text-anchor="end">0.008</text>
<rect x="1702.6" y="2434.2" width="49.0" height="363.8" fill="#000"/>
<line x1="1727.1" y1="2434.2" x2="1727.1" y2="2413.2" stroke="#888" stroke-width="3.5"/>
<line x1="1714.1" y1="2413.2" x2="1740.1" y2="2413.2" stroke="#000" stroke-width="4.5"/>
<line x1="1727.1" y1="2798.0" x2="1727.1" y2="2814.0" stroke="#000" stroke-width="3"/>
<text transform="translate(1758.6,2840.5) rotate(-45)" font-size="54" text-anchor="end">0.04</text>
<rect x="1763.4" y="2357.2" width="49.0" height="440.8" fill="#000"/>
<line x1="1787.9" y1="2357.2" x2="1787.9" y2="2325.9" stroke="#888" stroke-width="3.5"/>
<line x1="1774.9" y1="2325.9" x2="1800.9" y2="2325.9" stroke="#000" stroke-width="4.5"/>
<line x1="1787.9" y1="2798.0" x2="1787.9" y2="2814.0" stroke="#000" stroke-width="3"/>
<text transform="translate(1819.4,2840.5) rotate(-45)" font-size="54" text-anchor="end">0.2</text>
<rect x="1824.2" y="2354.1" width="49.0" height="443.9" fill="#000"/>
<line x1="1848.7" y1="2354.1" x2="1848.7" y2="2322.8" stroke="#888" stroke-width="3.5"/>
<line x1="1835.7" y1="2322.8" x2="1861.7" y2="2322.8" stroke="#000" stroke-width="4.5"/>
<line x1="1848.7" y1="2798.0" x2="1848.7" y2="2814.0" stroke="#000" stroke-width="3"/>
<text transform="translate(1880.2,2840.5) rotate(-45)" font-size="54" text-anchor="end">1.0</text>
<rect x="1885.0" y="2350.5" width="49.0" height="447.5" fill="#000"/>
<line x1="1909.5" y1="2350.5" x2="1909.5" y2="2342.0" stroke="#888" stroke-width="3.5"/>
<line x1="1896.5" y1="2342.0" x2="1922.5" y2="2342.0" stroke="#000" stroke-width="4.5"/>
<line x1="1909.5" y1="2798.0" x2="1909.5" y2="2814.0" stroke="#000" stroke-width="3"/>
<text transform="translate(1941.0,2840.5) rotate(-45)" font-size="54" text-anchor="end">5.0</text>
<line x1="2019.5" y1="2798.0" x2="2019.5" y2="2757.3" stroke="#111" stroke-width="3.5"/>
<line x1="2006.5" y1="2757.3" x2="2032.5" y2="2757.3" stroke="#111" stroke-width="4.5"/>
<line x1="2019.5" y1="2798.0" x2="2019.5" y2="2814.0" stroke="#000" stroke-width="3"/>
<text transform="translate(2051.0,2840.5) rotate(-45)" font-size="54" text-anchor="end">0.0</text>
<rect x="2055.6" y="2707.6" width="49.0" height="90.4" fill="#a1a1a5"/>
<line x1="2080.1" y1="2724.2" x2="2080.1" y2="2691.0" stroke="#000" stroke-width="3.5"/>
<line x1="2067.1" y1="2724.2" x2="2093.1" y2="2724.2" stroke="#222" stroke-width="4.5"/>
<line x1="2067.1" y1="2691.0" x2="2093.1" y2="2691.0" stroke="#111" stroke-width="4.5"/>
<line x1="2080.1" y1="2798.0" x2="2080.1" y2="2814.0" stroke="#000" stroke-width="3"/>
<text transform="translate(2122.6,2827.0) rotate(-45)" font-size="54" text-anchor="end">0.008</text>
<rect x="2116.2" y="2472.7" width="49.0" height="325.3" fill="#a1a1a5"/>
<line x1="2140.7" y1="2474.0" x2="2140.7" y2="2471.3" stroke="#000" stroke-width="3.5"/>
<line x1="2127.7" y1="2474.0" x2="2153.7" y2="2474.0" stroke="#222" stroke-width="4.5"/>
<line x1="2127.7" y1="2471.3" x2="2153.7" y2="2471.3" stroke="#111" stroke-width="4.5"/>
<line x1="2140.7" y1="2798.0" x2="2140.7" y2="2814.0" stroke="#000" stroke-width="3"/>
<text transform="translate(2172.2,2840.5) rotate(-45)" font-size="54" text-anchor="end">0.04</text>
<rect x="2176.8" y="2389.9" width="49.0" height="408.1" fill="#a1a1a5"/>
<line x1="2201.3" y1="2395.2" x2="2201.3" y2="2384.5" stroke="#000" stroke-width="3.5"/>
<line x1="2188.3" y1="2395.2" x2="2214.3" y2="2395.2" stroke="#222" stroke-width="4.5"/>
<line x1="2188.3" y1="2384.5" x2="2214.3" y2="2384.5" stroke="#111" stroke-width="4.5"/>
<line x1="2201.3" y1="2798.0" x2="2201.3" y2="2814.0" stroke="#000" stroke-width="3"/>
<text transform="translate(2232.8,2840.5) rotate(-45)" font-size="54" text-anchor="end">0.2</text>
<rect x="2237.4" y="2381.8" width="49.0" height="416.2" fill="#a1a1a5"/>
<line x1="2261.9" y1="2383.2" x2="2261.9" y2="2380.5" stroke="#000" stroke-width="3.5"/>
<line x1="2248.9" y1="2383.2" x2="2274.9" y2="2383.2" stroke="#222" stroke-width="4.5"/>
<line x1="2248.9" y1="2380.5" x2="2274.9" y2="2380.5" stroke="#111" stroke-width="4.5"/>
<line x1="2261.9" y1="2798.0" x2="2261.9" y2="2814.0" stroke="#000" stroke-width="3"/>
<text transform="translate(2293.4,2840.5) rotate(-45)" font-size="54" text-anchor="end">1.0</text>
<rect x="2298.0" y="2348.3" width="49.0" height="449.7" fill="#a1a1a5"/>
<line x1="2322.5" y1="2350.5" x2="2322.5" y2="2346.0" stroke="#000" stroke-width="3.5"/>
<line x1="2309.5" y1="2350.5" x2="2335.5" y2="2350.5" stroke="#222" stroke-width="4.5"/>
<line x1="2309.5" y1="2346.0" x2="2335.5" y2="2346.0" stroke="#111" stroke-width="4.5"/>
<line x1="2322.5" y1="2798.0" x2="2322.5" y2="2814.0" stroke="#000" stroke-width="3"/>
<text transform="translate(2354.0,2840.5) rotate(-45)" font-size="54" text-anchor="end">5.0</text>
<text x="1963.0" y="2143.5" font-size="63" text-anchor="middle" >HepG2-NTCP (Extra)</text>
<rect x="1560.0" y="2189.0" width="30.0" height="21.0" fill="#000"/>
<rect x="1560.0" y="2237.0" width="30.0" height="21.0" fill="#a6a6a8"/>
<text x="1612.0" y="2215.0" font-size="55" text-anchor="start" >Column</text>
<text x="1612.0" y="2262.0" font-size="55" text-anchor="start" >Column-free</text>
<text transform="translate(1424.0,2527.0) rotate(-90)" x="0" y="0" font-size="63" text-anchor="middle">HBV inhibition (%)</text>
<text x="1960.0" y="2983.0" font-size="55" text-anchor="middle" >Concentration of LMV (μM)</text>
<line x1="313.5" y1="3798.5" x2="1213.0" y2="3798.5" stroke="#000" stroke-width="3"/>
<line x1="315.0" y1="3216.4" x2="315.0" y2="3800.0" stroke="#000" stroke-width="6.5"/>
<line x1="296.0" y1="3798.5" x2="315.0" y2="3798.5" stroke="#000" stroke-width="4.5"/>
<text x="291.8" y="3821.9" font-size="60" text-anchor="end" >0</text>
<line x1="296.0" y1="3682.5" x2="315.0" y2="3682.5" stroke="#000" stroke-width="4.5"/>
<text x="291.8" y="3704.4" font-size="60" text-anchor="end" >2</text>
<line x1="296.0" y1="3566.6" x2="315.0" y2="3566.6" stroke="#000" stroke-width="4.5"/>
<text x="291.8" y="3587.7" font-size="60" text-anchor="end" >4</text>
<line x1="296.0" y1="3450.6" x2="315.0" y2="3450.6" stroke="#000" stroke-width="4.5"/>
<text x="291.8" y="3471.6" font-size="60" text-anchor="end" >6</text>
<line x1="296.0" y1="3334.7" x2="315.0" y2="3334.7" stroke="#000" stroke-width="4.5"/>
<text x="291.8" y="3354.1" font-size="60" text-anchor="end" >8</text>
<line x1="296.0" y1="3218.7" x2="315.0" y2="3218.7" stroke="#000" stroke-width="4.5"/>
<text x="291.8" y="3239.2" font-size="60" text-anchor="end" >10</text>
<rect x="372.0" y="3364.8" width="51.5" height="433.7" fill="#000"/>
<rect x="431.0" y="3342.8" width="51.5" height="455.7" fill="#a1a1a5"/>
<line x1="397.8" y1="3364.8" x2="397.8" y2="3355.0" stroke="#111" stroke-width="3.5"/>
<line x1="384.8" y1="3355.0" x2="410.8" y2="3355.0" stroke="#111" stroke-width="4.5"/>
<line x1="456.8" y1="3349.7" x2="456.8" y2="3335.8" stroke="#111" stroke-width="3.5"/>
<line x1="443.8" y1="3349.7" x2="469.8" y2="3349.7" stroke="#222" stroke-width="4.5"/>
<line x1="443.8" y1="3335.8" x2="469.8" y2="3335.8" stroke="#111" stroke-width="4.5"/>
<line x1="425.0" y1="3798.5" x2="425.0" y2="3814.5" stroke="#000" stroke-width="4"/>
<text x="419.5" y="3870.0" font-size="62" text-anchor="middle" >HTP1</text>
<rect x="596.0" y="3390.3" width="51.5" height="408.2" fill="#000"/>
<rect x="655.0" y="3384.5" width="51.5" height="414.0" fill="#a1a1a5"/>
<line x1="621.8" y1="3390.3" x2="621.8" y2="3387.4" stroke="#111" stroke-width="3.5"/>
<line x1="608.8" y1="3387.4" x2="634.8" y2="3387.4" stroke="#111" stroke-width="4.5"/>
<line x1="680.8" y1="3386.8" x2="680.8" y2="3382.2" stroke="#111" stroke-width="3.5"/>
<line x1="667.8" y1="3386.8" x2="693.8" y2="3386.8" stroke="#222" stroke-width="4.5"/>
<line x1="667.8" y1="3382.2" x2="693.8" y2="3382.2" stroke="#111" stroke-width="4.5"/>
<line x1="649.0" y1="3798.5" x2="649.0" y2="3814.5" stroke="#000" stroke-width="4"/>
<text x="648.0" y="3870.0" font-size="62" text-anchor="middle" >HTP2</text>
<rect x="820.0" y="3467.4" width="51.5" height="331.1" fill="#000"/>
<rect x="879.0" y="3492.4" width="51.5" height="306.1" fill="#a1a1a5"/>
<line x1="845.8" y1="3467.4" x2="845.8" y2="3460.5" stroke="#111" stroke-width="3.5"/>
<line x1="832.8" y1="3460.5" x2="858.8" y2="3460.5" stroke="#111" stroke-width="4.5"/>
<line x1="904.8" y1="3502.8" x2="904.8" y2="3481.9" stroke="#111" stroke-width="3.5"/>
<line x1="891.8" y1="3502.8" x2="917.8" y2="3502.8" stroke="#222" stroke-width="4.5"/>
<line x1="891.8" y1="3481.9" x2="917.8" y2="3481.9" stroke="#111" stroke-width="4.5"/>
<line x1="873.0" y1="3798.5" x2="873.0" y2="3814.5" stroke="#000" stroke-width="4"/>
<text x="871.5" y="3870.0" font-size="62" text-anchor="middle" >LTP1</text>
<rect x="1044.0" y="3484.8" width="51.5" height="313.7" fill="#000"/>
<rect x="1103.0" y="3473.8" width="51.5" height="324.7" fill="#a1a1a5"/>
<line x1="1069.8" y1="3484.8" x2="1069.8" y2="3470.3" stroke="#111" stroke-width="3.5"/>
<line x1="1056.8" y1="3470.3" x2="1082.8" y2="3470.3" stroke="#111" stroke-width="4.5"/>
<line x1="1128.8" y1="3501.1" x2="1128.8" y2="3446.6" stroke="#111" stroke-width="3.5"/>
<line x1="1115.8" y1="3501.1" x2="1141.8" y2="3501.1" stroke="#222" stroke-width="4.5"/>
<line x1="1115.8" y1="3446.6" x2="1141.8" y2="3446.6" stroke="#111" stroke-width="4.5"/>
<line x1="1097.0" y1="3798.5" x2="1097.0" y2="3814.5" stroke="#000" stroke-width="4"/>
<text x="1095.5" y="3870.0" font-size="62" text-anchor="middle" >LTP2</text>
<text x="756.0" y="3123.5" font-size="63" text-anchor="middle" >CHB patient serum</text>
<rect x="326.7" y="3150.5" width="30.0" height="21.0" fill="#000"/>
<rect x="326.7" y="3198.5" width="30.0" height="21.0" fill="#a6a6a8"/>
<text x="375.3" y="3181.2" font-size="55" text-anchor="start" >Column</text>
<text x="375.3" y="3226.5" font-size="55" text-anchor="start" >Column-free</text>
<text transform="translate(209.0,3518.0) rotate(-90)" x="0" y="0" font-size="63" text-anchor="middle">Log<tspan font-size="41" dy="11">10</tspan><tspan dy="-11"> HBV DNA (copies/μL)</tspan></text>
</g>
</svg>
</body></html>
